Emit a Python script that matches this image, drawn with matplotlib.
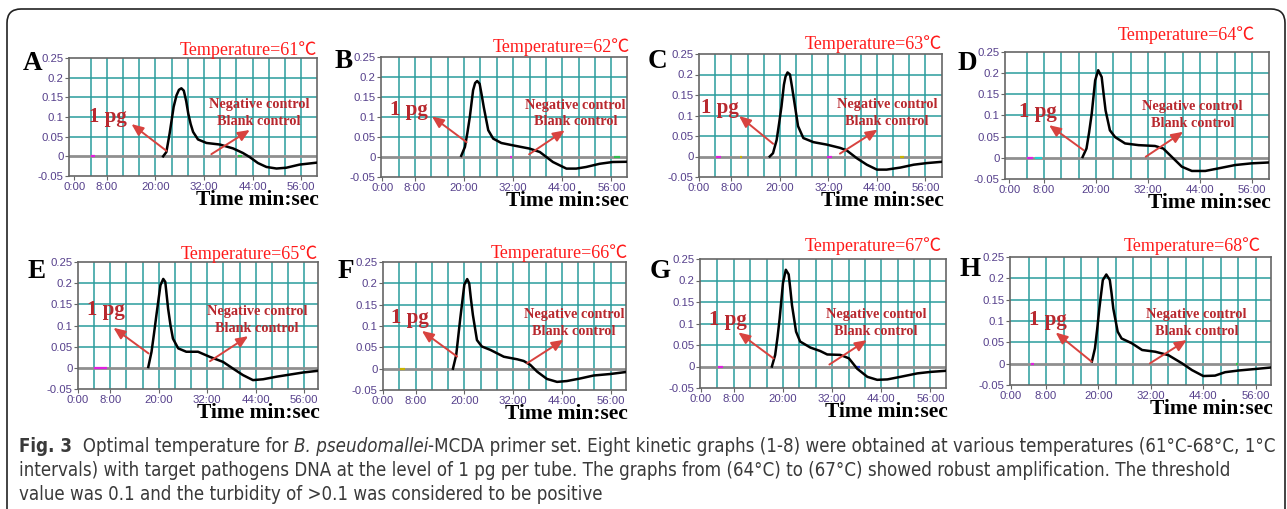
import matplotlib
matplotlib.use('Agg')
import matplotlib.pyplot as plt
from matplotlib.patches import FancyBboxPatch

# ---------------- data ----------------
panel_labels = ['A', 'B', 'C', 'D', 'E', 'F', 'G', 'H']
temperatures = [61, 62, 63, 64, 65, 66, 67, 68]
x_tick_values = [0, 8, 20, 32, 44, 56]
x_tick_labels = ['0:00', '8:00', '20:00', '32:00', '44:00', '56:00']
y_tick_values = [-0.05, 0, 0.05, 0.1, 0.15, 0.2, 0.25]
y_tick_labels = ['-0.05', '0', '0.05', '0.1', '0.15', '0.2', '0.25']

t_A = [21.9, 22.7, 23.5, 24.5, 25.2, 25.8, 26.4, 27.0, 27.6, 28.1, 28.7, 29.3, 30.5, 32.6, 35.9, 39.2, 41.6, 43.3, 45.3, 47.4, 49.9, 52.3, 55.6, 59.9]
y_A = [0.0, 0.011, 0.058, 0.126, 0.155, 0.169, 0.173, 0.167, 0.140, 0.109, 0.082, 0.062, 0.043, 0.034, 0.030, 0.020, 0.0085, -0.002, -0.017, -0.027, -0.031, -0.029, -0.021, -0.016]

t_B = [19.3, 20.2, 20.8, 21.4, 22.2, 22.7, 23.2, 23.8, 24.3, 24.8, 25.9, 27.1, 29.1, 32.0, 36.0, 38.5, 40.1, 41.7, 45.0, 47.4, 49.8, 53.1, 56.3, 59.6]
y_B = [0.003, 0.025, 0.06, 0.10, 0.167, 0.185, 0.19, 0.183, 0.155, 0.125, 0.067, 0.046, 0.035, 0.029, 0.021, 0.0125, 0.0, -0.0125, -0.029, -0.029, -0.025, -0.017, -0.0125, -0.012]

t_C = [17.5, 18.3, 19.2, 19.8, 20.4, 21.0, 21.4, 21.9, 22.5, 23.0, 23.5, 24.5, 25.8, 28.3, 31.6, 34.9, 36.5, 39.0, 41.5, 44.0, 46.4, 49.8, 53.1, 56.4, 60.0]
y_C = [0.0, 0.008, 0.04, 0.08, 0.122, 0.175, 0.195, 0.205, 0.2, 0.17, 0.138, 0.074, 0.045, 0.035, 0.029, 0.021, 0.015, -0.004, -0.02, -0.032, -0.032, -0.027, -0.02, -0.016, -0.013]

t_D = [16.9, 17.8, 18.4, 19.0, 19.8, 20.5, 21.3, 21.7, 22.2, 23.2, 24.4, 26.7, 29.8, 33.6, 35.5, 37.5, 39.8, 42.1, 45.2, 48.2, 52.1, 55.9, 59.8]
y_D = [0.002, 0.022, 0.06, 0.104, 0.183, 0.207, 0.191, 0.155, 0.112, 0.065, 0.049, 0.034, 0.030, 0.028, 0.022, 0.002, -0.021, -0.031, -0.031, -0.025, -0.017, -0.013, -0.011]

t_E = [17.4, 18.2, 18.8, 19.4, 20.4, 21.1, 21.6, 22.3, 22.9, 23.5, 24.8, 26.8, 29.7, 32.6, 35.9, 38.4, 40.8, 43.3, 45.8, 49.1, 52.4, 55.7, 59.4]
y_E = [0.002, 0.038, 0.08, 0.124, 0.195, 0.21, 0.203, 0.14, 0.10, 0.069, 0.046, 0.038, 0.038, 0.026, 0.014, -0.002, -0.017, -0.029, -0.027, -0.021, -0.016, -0.011, -0.007]

t_F = [17.2, 18.0, 18.5, 19.0, 20.0, 20.7, 21.2, 21.6, 22.1, 23.1, 24.3, 26.4, 29.7, 33.0, 34.6, 36.2, 37.9, 40.3, 42.8, 45.2, 48.5, 51.8, 55.9, 59.6]
y_F = [0.0, 0.032, 0.075, 0.118, 0.197, 0.21, 0.2, 0.165, 0.126, 0.067, 0.052, 0.044, 0.028, 0.022, 0.018, 0.009, -0.007, -0.024, -0.031, -0.029, -0.023, -0.016, -0.0125, -0.008]

t_G = [17.3, 18.1, 18.7, 19.2, 20.0, 20.7, 21.4, 21.8, 22.2, 23.2, 24.2, 26.7, 29.1, 30.8, 34.0, 36.1, 38.1, 40.6, 43.0, 45.5, 48.7, 52.8, 56.1, 59.8]
y_G = [0.0, 0.027, 0.07, 0.112, 0.194, 0.225, 0.214, 0.18, 0.143, 0.081, 0.058, 0.044, 0.036, 0.028, 0.027, 0.019, -0.005, -0.024, -0.031, -0.030, -0.024, -0.016, -0.0125, -0.010]

t_H = [18.5, 19.2, 19.7, 20.2, 21.0, 21.8, 22.6, 23.0, 23.4, 24.4, 25.3, 27.6, 30.0, 33.0, 36.0, 39.1, 41.4, 44.0, 46.7, 49.0, 52.1, 55.9, 59.5]
y_H = [0.005, 0.036, 0.08, 0.129, 0.196, 0.209, 0.196, 0.165, 0.129, 0.075, 0.059, 0.048, 0.032, 0.028, 0.020, 0.001, -0.015, -0.029, -0.028, -0.020, -0.016, -0.0125, -0.009]

# control traces: short visible pieces (start, end) in minutes at turbidity 0
neg_A = [(4.2, 5.0)];  blank_A = [(40.4, 41.5)]
neg_B = [(31.1, 31.8)]; blank_B = [(56.7, 58.0)]
neg_C = [(4.1, 5.4), (31.7, 32.8)]; blank_C = [(10.1, 10.7), (49.8, 50.6)]
neg_D = [(4.0, 5.5)];  blank_D = [(5.9, 7.6)]
neg_E = [(3.9, 7.1)];  blank_E = []
neg_F = [];            blank_F = [(4.1, 5.5)]
neg_G = [(4.1, 5.3)];  blank_G = [(37.7, 38.9)]
neg_H = [(4.6, 5.2)];  blank_H = [(51.5, 52.0)]

times = [t_A, t_B, t_C, t_D, t_E, t_F, t_G, t_H]
values = [y_A, y_B, y_C, y_D, y_E, y_F, y_G, y_H]
negs = [neg_A, neg_B, neg_C, neg_D, neg_E, neg_F, neg_G, neg_H]
blanks = [blank_A, blank_B, blank_C, blank_D, blank_E, blank_F, blank_G, blank_H]
blank_colors = ['#2fbf4f', '#2fbf4f', '#c8b400', '#20d0d0', '#20d0d0', '#c8b400', '#3040d0', '#2fbf4f']

# ---------------- layout (pixels) ----------------
W, H = 1287, 509
DPI = 100
boxes = [(69, 317, 58, 176), (381, 627, 57, 177), (699, 942, 54, 177), (1005, 1269, 52, 179),
         (78, 318, 262, 389), (383, 626, 262, 390), (700, 946, 259, 388), (1010, 1271, 257, 385)]
letter_xy = [(33, 64), (344, 62), (657, 62), (967, 63), (37, 272), (346, 272), (660, 272), (970, 270)]
xlims = [(-1.35, 59.9), (-0.3, 59.8), (0, 60.1), (-1.0, 59.9),
         (0, 59.4), (0, 59.75), (-0.25, 59.8), (-0.25, 59.5)]
pg_text = [(0.155, 0.50), (0.115, 0.56), (0.085, 0.56), (0.126, 0.529),
           (0.118, 0.62), (0.112, 0.565), (0.115, 0.527), (0.144, 0.507)]
arr1 = [((0.393, 0.213), (0.252, 0.44)), ((0.348, 0.29), (0.207, 0.505)),
        ((0.305, 0.27), (0.165, 0.496)), ((0.297, 0.228), (0.167, 0.424)),
        ((0.294, 0.28), (0.148, 0.482)), ((0.305, 0.261), (0.16, 0.462)),
        ((0.299, 0.229), (0.156, 0.431)), ((0.313, 0.182), (0.175, 0.41))]
ctrl_text = [(0.766, 0.61, 0.46), (0.79, 0.60, 0.465), (0.773, 0.593, 0.453), (0.71, 0.573, 0.437),
             (0.746, 0.613, 0.476), (0.787, 0.593, 0.457), (0.716, 0.571, 0.436), (0.715, 0.551, 0.416)]
arr2 = [((0.574, 0.185), (0.729, 0.39)), ((0.602, 0.189), (0.747, 0.389)),
        ((0.58, 0.19), (0.735, 0.385)), ((0.533, 0.175), (0.675, 0.372)),
        ((0.55, 0.219), (0.709, 0.416)), ((0.593, 0.209), (0.743, 0.392)),
        ((0.526, 0.182), (0.678, 0.371)), ((0.536, 0.169), (0.677, 0.351))]
temp_pos = [(1.0, 8), (1.01, 10), (1.0, 10), (0.947, 17), (1.0, 8), (1.01, 9), (0.984, 13), (0.962, 11)]

SERIF = ['Liberation Serif', 'DejaVu Serif']
TEMP_FONT = ['Liberation Serif', 'Noto Sans CJK SC', 'DejaVu Sans']
GRID = '#2a9c9c'
TICKC = '#56408c'
DARKRED = '#b8282e'
ARROWC = '#d8433f'

fig = plt.figure(figsize=(W / DPI, H / DPI), dpi=DPI)
fig.patch.set_facecolor('white')

for i in range(8):
    L, R, T, B = boxes[i]
    ax = fig.add_axes([L / W, 1 - B / H, (R - L) / W, (B - T) / H])
    ax.set_xlim(*xlims[i])
    ax.set_ylim(-0.05, 0.25)
    for g in range(4, 60, 4):
        ax.axvline(g, color=GRID, lw=1.1, zorder=1)
    for g in [0.05, 0.1, 0.15, 0.2]:
        ax.axhline(g, color=GRID, lw=1.1, zorder=1)
    ax.axhline(0, color='#8f8f8f', lw=2.0, zorder=2)
    for (a, b) in negs[i]:
        ax.plot([a, b], [0, 0], color='#e020e0', lw=1.6, zorder=3, solid_capstyle='butt')
    for (a, b) in blanks[i]:
        ax.plot([a, b], [0, 0], color=blank_colors[i], lw=1.6, zorder=3, solid_capstyle='butt')
    ax.plot(times[i], values[i], color='black', lw=1.8, zorder=4, solid_joinstyle='round')

    ax.set_xticks(x_tick_values)
    ax.set_xticklabels(x_tick_labels)
    ax.set_yticks(y_tick_values)
    ax.set_yticklabels(y_tick_labels)
    ax.tick_params(axis='both', length=3, width=0.8, color='#666666', labelcolor=TICKC,
                   labelsize=8.2, pad=1)
    for lab in ax.get_xticklabels() + ax.get_yticklabels():
        lab.set_fontfamily(['Liberation Sans', 'DejaVu Sans'])
    for s in ax.spines.values():
        s.set_color('#666666')
        s.set_linewidth(1.2)

    lx, ly = letter_xy[i]
    fig.text(lx / W, 1 - ly / H, panel_labels[i], family=SERIF, weight='bold',
             fontsize=19.5, ha='center', va='center', color='black')
    tx, dy = temp_pos[i]
    fig.text((L + tx * (R - L)) / W, 1 - (T - dy) / H, 'Temperature=%d\u2103' % temperatures[i],
             family=TEMP_FONT, fontsize=13, color='#ff1a1a', ha='right', va='center')
    fig.text((R + 2) / W, 1 - (B + 24) / H, 'Time min:sec', family=SERIF, weight='bold',
             fontsize=15.5, color='black', ha='right', va='center')

    ax.text(pg_text[i][0], pg_text[i][1], '1 pg', transform=ax.transAxes, family=SERIF,
            weight='bold', fontsize=15, color=DARKRED, ha='center', va='center', zorder=6)
    (x0, y0), (x1, y1) = arr1[i]
    ax.annotate('', xy=(x1, y1), xytext=(x0, y0), xycoords='axes fraction', textcoords='axes fraction',
                arrowprops=dict(arrowstyle='-|>,head_length=0.7,head_width=0.3', color=ARROWC, lw=1.4,
                                shrinkA=0, shrinkB=0), zorder=6)
    cx, cy1, cy2 = ctrl_text[i]
    ax.text(cx, cy1, 'Negative control', transform=ax.transAxes, family=SERIF, weight='bold',
            fontsize=10.3, color=DARKRED, ha='center', va='center', zorder=6)
    ax.text(cx, cy2, 'Blank control', transform=ax.transAxes, family=SERIF, weight='bold',
            fontsize=10.3, color=DARKRED, ha='center', va='center', zorder=6)
    (x0, y0), (x1, y1) = arr2[i]
    ax.annotate('', xy=(x1, y1), xytext=(x0, y0), xycoords='axes fraction', textcoords='axes fraction',
                arrowprops=dict(arrowstyle='-|>,head_length=0.7,head_width=0.3', color=ARROWC, lw=1.4,
                                shrinkA=0, shrinkB=0), zorder=6)

frame = FancyBboxPatch((7 / DPI, -0.3), (1285 - 7) / DPI, (H - 9) / DPI + 0.3,
                       boxstyle='round,pad=0,rounding_size=0.14', transform=fig.dpi_scale_trans,
                       facecolor='none', edgecolor='#222222', lw=1.2, clip_on=False)
fig.patches.append(frame)

# caption, fitted to the reference line width
CAP = ['DejaVu Sans']
STRETCH = 'condensed'
capc = '#3a3a3a'
renderer = fig.canvas.get_renderer()
line1 = [('Fig. 3', 'bold', 'normal'), ('  Optimal temperature for ', 'normal', 'normal'),
         ('B. pseudomallei', 'normal', 'italic'),
         ('-MCDA primer set. Eight kinetic graphs (1-8) were obtained at various temperatures (61\u00b0C-68\u00b0C, 1\u00b0C',
          'normal', 'normal')]
line2 = 'intervals) with target pathogens DNA at the level of 1 pg per tube. The graphs from (64\u00b0C) to (67\u00b0C) showed robust amplification. The threshold'
line3 = 'value was 0.1 and the turbidity of >0.1 was considered to be positive'


def draw_line1(fs, x0, y):
    objs = []
    x = x0
    for txt, wgt, sty in line1:
        t = fig.text(x / W, y, txt, family=CAP, stretch=STRETCH, weight=wgt, style=sty,
                     fontsize=fs, color=capc, ha='left', va='center')
        x += t.get_window_extent(renderer).width
        objs.append(t)
    return objs, x - x0


objs, width = draw_line1(12.0, 19, 1 - 447 / H)
for o in objs:
    o.remove()
fs = 12.0 * 1253 / width
draw_line1(fs, 19, 1 - 447 / H)
fig.text(19 / W, 1 - 470 / H, line2, family=CAP, stretch=STRETCH, fontsize=fs, color=capc,
         ha='left', va='center')
fig.text(19 / W, 1 - 494 / H, line3, family=CAP, stretch=STRETCH, fontsize=fs, color=capc,
         ha='left', va='center')

fig.savefig('out.png', dpi=DPI, facecolor='white')
